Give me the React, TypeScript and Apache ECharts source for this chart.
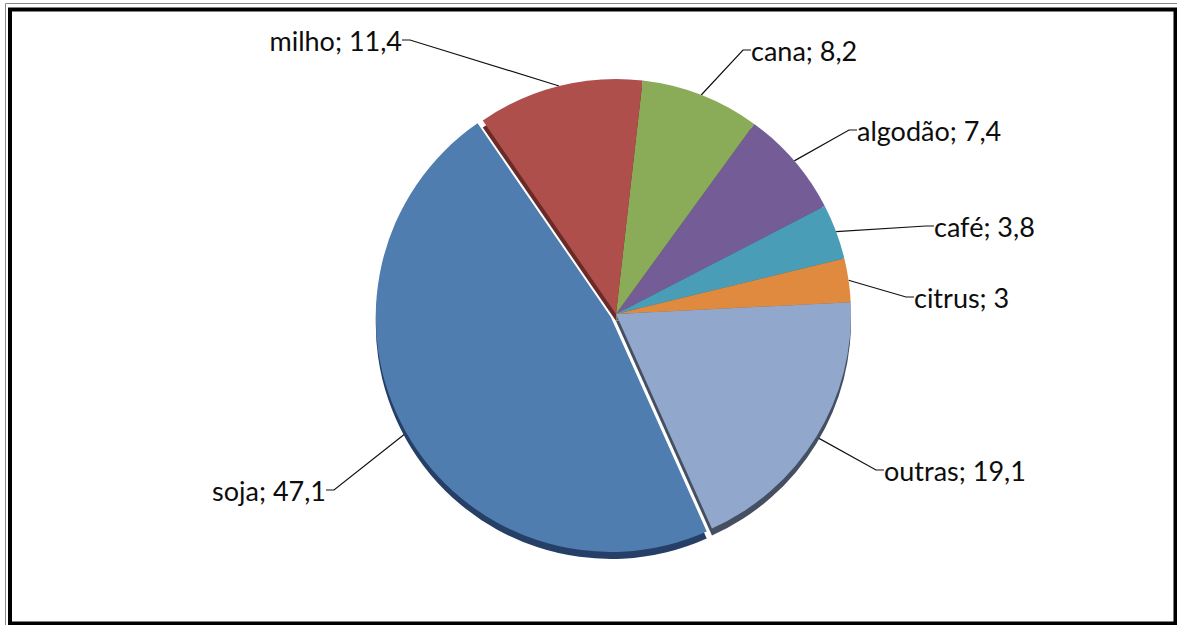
import React, { useEffect, useRef } from "react";
import * as echarts from "echarts";

// Crops, in clockwise order from the top of the pie
const crops = ["cana", "algodão", "café", "citrus", "outras", "soja", "milho"];
const shares = [8.2, 7.4, 3.8, 3, 19.1, 47.1, 11.4];
const faceColors = ["#8aac58", "#745d97", "#4a9db6", "#e08a3f", "#91a7cc", "#4f7db0", "#ae4f4c"];
const rimColors = ["#56702f", "#463761", "#2a6475", "#9a5520", "#454f62", "#263f66", "#6a2a28"];
const exploded = ["soja"];

// Where each label sits: [x, y, anchor side]
const labelSpots: Record<string, [number, number, "left" | "right"]> = {
  cana: [751, 50, "left"],
  "algodão": [857, 130, "left"],
  "café": [934, 226, "left"],
  citrus: [914, 297, "left"],
  outras: [884, 470, "left"],
  soja: [326, 490, "right"],
  milho: [402, 40, "right"],
};

const fmt = (v: number) => String(v).replace(".", ",");

export default function App() {
  const ref = useRef<HTMLDivElement>(null);

  useEffect(() => {
    if (!ref.current) return;
    const chart = echarts.init(ref.current, undefined, { renderer: "svg" });

    const cx = 616;
    const cy = 314;
    const r = 235;
    const start = 83.5;

    const build = (colors: string[] | null) =>
      crops.map((name, i) => ({
        name,
        value: shares[i],
        selected: colors ? exploded.includes(name) : false,
        itemStyle: { color: colors ? colors[i] : "rgba(0,0,0,0)" },
      }));

    const pieBase = {
      type: "pie",
      radius: r,
      startAngle: start,
      clockwise: true,
      silent: true,
      emphasis: { disabled: true },
      itemStyle: { borderWidth: 0 },
    };

    chart.setOption({
      animation: false,
      backgroundColor: "#ffffff",
      graphic: [
        {
          type: "rect",
          shape: { x: 5.5, y: 3.5, width: 1180, height: 630 },
          style: { fill: "none", stroke: "#8a8a8a", lineWidth: 1 },
          silent: true,
          z: 100,
        },
        {
          type: "rect",
          shape: { x: 10, y: 9.5, width: 1165.5, height: 614 },
          style: { fill: "none", stroke: "#000000", lineWidth: 4 },
          silent: true,
          z: 101,
        },
      ],
      series: [
        {
          // labels and leader lines, laid under the coloured faces
          ...pieBase,
          center: [cx, cy],
          data: build(null),
          label: {
            show: true,
            formatter: (p: any) => `${p.name}; ${fmt(p.value)}`,
            fontFamily: "Lato",
            fontSize: 27,
            color: "#0d0d0d",
          },
          labelLine: {
            show: true,
            length: 20,
            length2: 8,
            lineStyle: { color: "#111111", width: 1.2 },
          },
          labelLayout: (p: any) => {
            const spot = labelSpots[p.text.split(";")[0]];
            if (!spot) return {};
            return {
              x: spot[0],
              y: spot[1],
              align: spot[2],
              verticalAlign: "middle",
            };
          },
          z: 1,
        },
        {
          // darker copy slightly lower: the pie's thickness
          ...pieBase,
          center: [cx, cy + 7],
          selectedMode: "multiple",
          selectedOffset: 6,
          label: { show: false },
          labelLine: { show: false },
          data: build(rimColors),
          z: 2,
        },
        {
          ...pieBase,
          center: [cx, cy],
          selectedMode: "multiple",
          selectedOffset: 6,
          label: { show: false },
          labelLine: { show: false },
          data: build(faceColors),
          z: 3,
        },
      ],
    });

    return () => chart.dispose();
  }, []);

  return (
    <div
      ref={ref}
      style={{ position: "absolute", left: 0, top: 0, width: 1177, height: 625 }}
    />
  );
}
